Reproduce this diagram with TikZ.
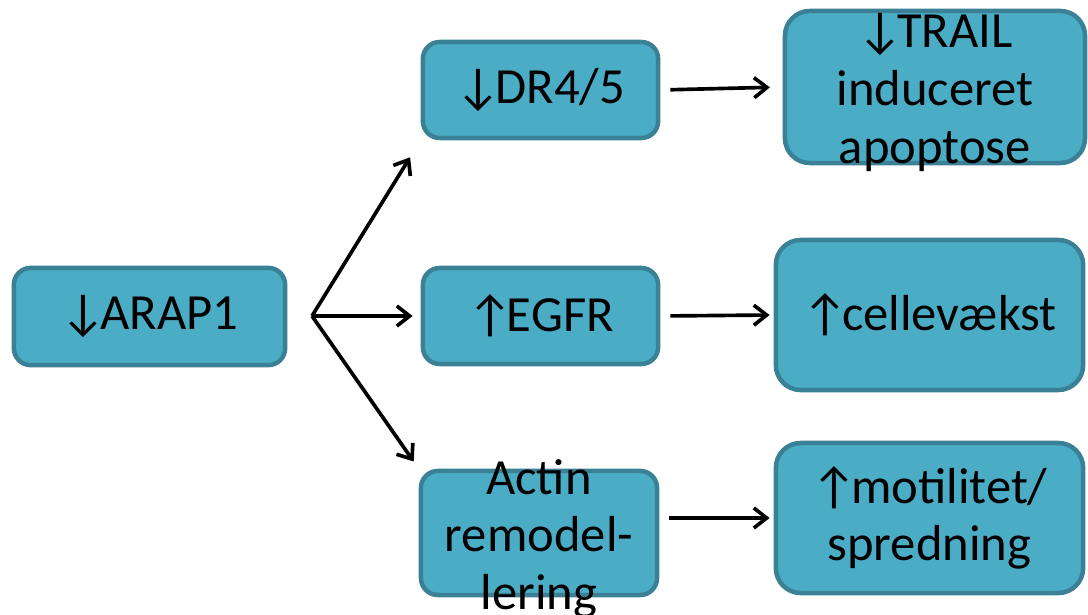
\documentclass[tikz,border=0pt]{standalone}
\usepackage{fontspec}
\setmainfont{Carlito}
\usepackage{xcolor}
\usetikzlibrary{calc,arrows.meta}
\definecolor{boxfill}{HTML}{4BACC6}
\definecolor{boxline}{HTML}{3B8196}
\tikzset{
  box/.style={draw=boxline, fill=boxfill, line width=3.2pt, rounded corners=0.42cm, inner sep=0pt, font=\fontsize{36}{41}\selectfont},
  bigbox/.style={box, rounded corners=0.62cm},
  link/.style={draw=black, line width=2.6pt, -{Straight Barb[length=0.32cm,width=0.5cm,line width=2.6pt]}}
}
\newcommand{\boxtxt}[3]{\parbox[c][#2][c]{#1}{\centering #3}}
\newcommand{\dn}{↓\kern-0.12em}
\newcommand{\up}{↑\kern-0.12em}

\begin{document}
\begin{tikzpicture}[x=0.025cm, y=-0.025cm]
  \useasboundingbox (0,0) rectangle (1088,615);
  \node[box] (arap) at (149.5,316.5) {\boxtxt{6.78cm}{2.43cm}{\dn ARAP1}};
  \node[box] (dr) at (540.5,90) {\boxtxt{5.88cm}{2.4cm}{\dn DR4/5}};
  \node[box] (egfr) at (540.5,316) {\boxtxt{5.88cm}{2.4cm}{\up EGFR}};
  \node[box] (actin) at (539,533) {\boxtxt{5.9cm}{3.1cm}{\vspace*{0.28cm}Actin\\remodel-\\lering}};
  \node[bigbox] (trail) at (935,87) {\boxtxt{7.5cm}{3.8cm}{\vspace*{0.28cm}\dn TRAIL\\induceret\\apoptose}};
  \node[bigbox] (celle) at (929.5,315) {\boxtxt{7.68cm}{3.75cm}{\up cellevækst}};
  \node[bigbox] (moti) at (929.5,518) {\boxtxt{7.68cm}{3.75cm}{\up motilitet/\\spredning}};
  \coordinate (fork) at (312,316);
  \draw[link, shorten >=0.5cm] (fork) -- (dr.south west);
  \draw[link, shorten >=0.2cm] (fork) -- (egfr.west);
  \draw[link, shorten >=0.22cm] (fork) -- (actin.north west);
  \draw[link, shorten <=0.25cm, shorten >=0.32cm] (dr.east) -- (trail.west);
  \draw[link, shorten <=0.25cm, shorten >=0.1cm] (egfr.east) -- (celle.west);
  \draw[link, shorten <=0.25cm, shorten >=0.1cm] (actin.east |- moti.west) -- (moti.west);
\end{tikzpicture}
\end{document}
